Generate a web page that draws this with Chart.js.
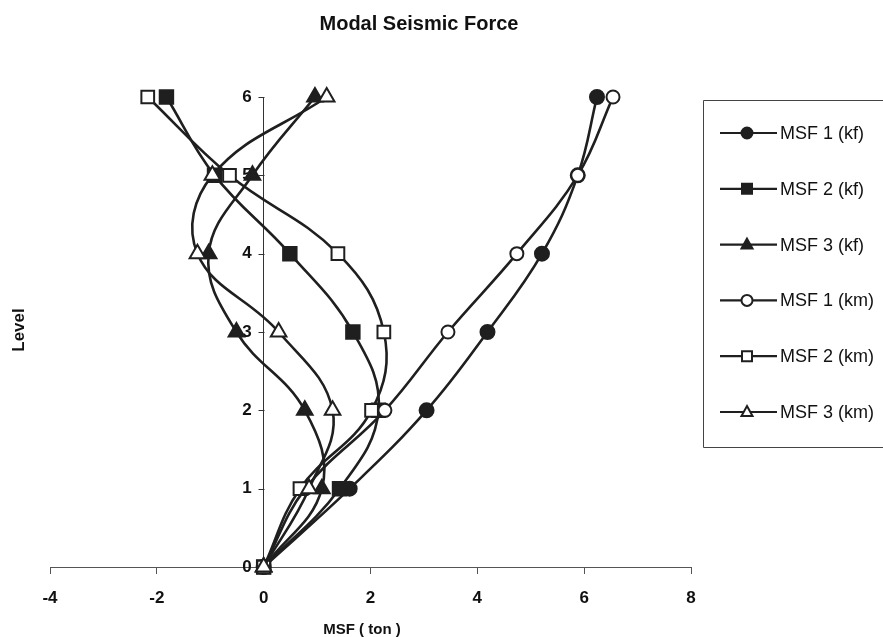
<!DOCTYPE html>
<html>
<head>
<meta charset="utf-8">
<script src="https://cdn.jsdelivr.net/npm/chart.js@4.4.1/dist/chart.umd.min.js"></script>
<style>
  html, body { margin: 0; padding: 0; background: #fff; }
  #wrap { width: 883px; height: 637px; position: relative; }
</style>
</head>
<body>
<div id="wrap"><canvas id="c" width="883" height="637"></canvas></div>
<script>
// ---- data ----
const levels = [0, 1, 2, 3, 4, 5, 6];
const msf1Kf = [0, 1.61, 3.05, 4.19, 5.21, 5.88, 6.24];
const msf2Kf = [0, 1.42, 2.15, 1.67, 0.49, -0.92, -1.82];
const msf3Kf = [0, 1.09, 0.77, -0.51, -1.03, -0.21, 0.96];
const msf1Km = [0, 0.78, 2.27, 3.45, 4.74, 5.88, 6.54];
const msf2Km = [0, 0.68, 2.02, 2.25, 1.39, -0.64, -2.17];
const msf3Km = [0, 0.85, 1.29, 0.28, -1.24, -0.96, 1.18];
const seriesLabels = ['MSF 1 (kf)', 'MSF 2 (kf)', 'MSF 3 (kf)', 'MSF 1 (km)', 'MSF 2 (km)', 'MSF 3 (km)'];
const chartTitle = 'Modal Seismic Force';
const xTitle = 'MSF ( ton )';
const yTitle = 'Level';

const INK = '#1f1f1f';
const seriesValues = [msf1Kf, msf2Kf, msf3Kf, msf1Km, msf2Km, msf3Km];
const styles = [
  { shape: 'circle', filled: true, r: 7 },
  { shape: 'rect', filled: true, r: 9.5 },
  { shape: 'triangle', filled: true, r: 9 },
  { shape: 'circle', filled: false, r: 6.5 },
  { shape: 'rect', filled: false, r: 9 },
  { shape: 'triangle', filled: false, r: 9 }
];

const datasets = seriesValues.map((vals, i) => ({
  label: seriesLabels[i],
  data: vals.map((v, k) => ({ x: v, y: levels[k] })),
  showLine: true,
  borderColor: INK,
  borderWidth: 2.6,
  tension: 0.4,
  pointStyle: styles[i].shape,
  pointRadius: styles[i].r,
  pointHoverRadius: styles[i].r,
  pointBorderWidth: 2,
  pointBorderColor: INK,
  pointBackgroundColor: styles[i].filled ? INK : '#ffffff',
  clip: false,
  order: 6 - i
}));

function drawMarker(ctx, shape, filled, x, y, r) {
  ctx.save();
  ctx.beginPath();
  if (shape === 'circle') {
    ctx.arc(x, y, r, 0, Math.PI * 2);
  } else if (shape === 'rect') {
    const s = r;
    ctx.rect(x - s, y - s, 2 * s, 2 * s);
  } else {
    const h = r * 1.8;
    ctx.moveTo(x, y - h * 0.6);
    ctx.lineTo(x + r, y + h * 0.4);
    ctx.lineTo(x - r, y + h * 0.4);
    ctx.closePath();
  }
  ctx.fillStyle = filled ? INK : '#ffffff';
  ctx.fill();
  ctx.lineWidth = 2;
  ctx.strokeStyle = INK;
  ctx.stroke();
  ctx.restore();
}

const decorPlugin = {
  id: 'decor',
  beforeDatasetsDraw(chart) {
    // small outward tick marks on the y axis (at x = 0)
    const ctx = chart.ctx;
    const xs = chart.scales.x, ys = chart.scales.y;
    const ax = Math.round(xs.getPixelForValue(0)) + 0.5;
    ctx.save();
    ctx.strokeStyle = '#333';
    ctx.lineWidth = 1;
    ctx.beginPath();
    ys.ticks.forEach(t => {
      const py = Math.round(ys.getPixelForValue(t.value)) + 0.5;
      ctx.moveTo(ax - 6, py);
      ctx.lineTo(ax, py);
    });
    ctx.stroke();
    ctx.restore();
  },
  afterDraw(chart) {
    const ctx = chart.ctx;
    ctx.save();
    // chart title
    ctx.fillStyle = '#111';
    ctx.font = 'bold 20px "Liberation Sans", Arial, sans-serif';
    ctx.textAlign = 'center';
    ctx.textBaseline = 'middle';
    ctx.fillText(chartTitle, 419, 24);
    // x axis title
    ctx.font = 'bold 15px "Liberation Sans", Arial, sans-serif';
    ctx.fillText(xTitle, 362, 630);
    // y axis title
    ctx.save();
    ctx.translate(19, 330);
    ctx.rotate(-Math.PI / 2);
    ctx.font = 'bold 17px "Liberation Sans", Arial, sans-serif';
    ctx.fillText(yTitle, 0, 0);
    ctx.restore();
    // legend box
    ctx.strokeStyle = '#444';
    ctx.lineWidth = 1;
    ctx.beginPath();
    ctx.moveTo(890, 100.5);
    ctx.lineTo(703.5, 100.5);
    ctx.lineTo(703.5, 447.5);
    ctx.lineTo(890, 447.5);
    ctx.stroke();
    // legend entries
    ctx.font = '18px "Liberation Sans", Arial, sans-serif';
    ctx.textAlign = 'left';
    chart.data.datasets.forEach((ds, i) => {
      const y = 133 + i * 55.8;
      ctx.strokeStyle = INK;
      ctx.lineWidth = 2.2;
      ctx.beginPath();
      ctx.moveTo(720, y);
      ctx.lineTo(777, y);
      ctx.stroke();
      drawMarker(ctx, styles[i].shape, styles[i].filled, 747, y, styles[i].shape === 'rect' ? 5 : 5.5);
      ctx.fillStyle = '#111';
      ctx.fillText(ds.label, 780, y + 1);
    });
    ctx.restore();
  }
};

new Chart(document.getElementById('c'), {
  type: 'scatter',
  data: { datasets },
  options: {
    responsive: false,
    animation: false,
    devicePixelRatio: 1,
    layout: { padding: { left: 50, right: 192, top: 97, bottom: 70 } },
    plugins: {
      legend: { display: false },
      title: { display: false },
      tooltip: { enabled: false }
    },
    scales: {
      x: {
        type: 'linear',
        position: { y: 0 },
        min: -4, max: 8,
        ticks: {
          stepSize: 2,
          color: '#111',
          padding: 15,
          font: { family: '"Liberation Sans", Arial, sans-serif', size: 17, weight: 'bold' }
        },
        grid: { drawOnChartArea: false, drawTicks: true, tickLength: 6, color: '#555' },
        border: { color: '#555', width: 1, dash: [6, 2] }
      },
      y: {
        type: 'linear',
        position: { x: 0 },
        min: 0, max: 6,
        ticks: {
          stepSize: 1,
          color: '#111',
          callback: (v) => v + '\u2002\u2009',
          font: { family: '"Liberation Sans", Arial, sans-serif', size: 17, weight: 'bold' }
        },
        grid: { drawOnChartArea: false, drawTicks: false },
        border: { color: '#333', width: 1 }
      }
    }
  },
  plugins: [decorPlugin]
});
</script>
</body>
</html>
